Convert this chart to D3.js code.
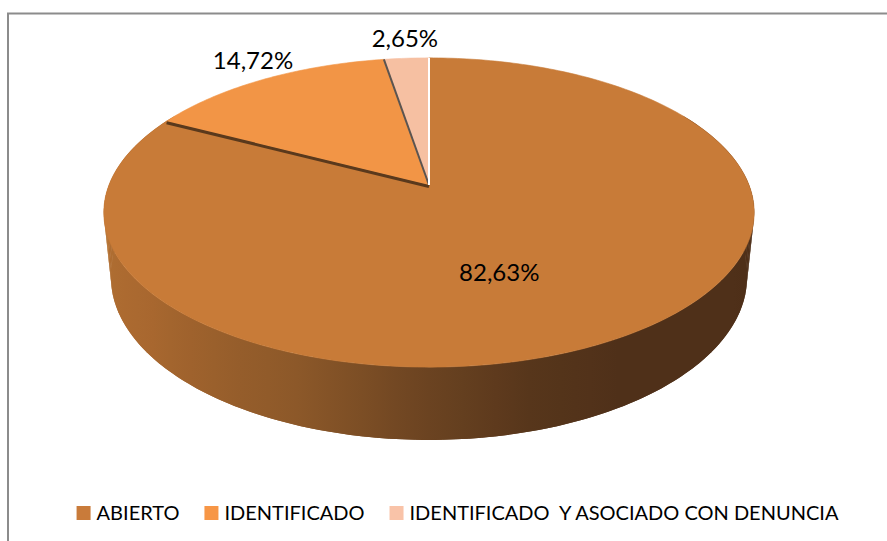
<!DOCTYPE html>
<html>
<head>
<meta charset="utf-8">
<script src="https://cdn.jsdelivr.net/npm/d3@7"></script>
<style>
  html, body { margin: 0; padding: 0; background: #fff; }
  text { font-family: Lato, "Open Sans", sans-serif; }
</style>
</head>
<body>
<div id="chart"></div>
<script>
"use strict";

// datos del gráfico
const categories = ["ABIERTO", "IDENTIFICADO", "IDENTIFICADO  Y ASOCIADO CON DENUNCIA"];
const values = [82.63, 14.72, 2.65];
const labels = ["82,63%", "14,72%", "2,65%"];
const topColors = ["#c87b38", "#f29546", "#f6c0a2"];
const legendColors = ["#c97b3a", "#f79646", "#f9c3a8"];

const svgWidth = 887;
const svgHeight = 541;

// proyección en perspectiva del pastel 3D
const cx = 429, cy = 185;
const R = 320;          // radio del disco
const H = 74;           // grosor
const elev = 27.9 * Math.PI / 180;
const D = 1590;         // distancia de la cámara

function project(theta, r, y) {
    const X = r * Math.sin(theta);
    const Z = -r * Math.cos(theta);
    const zp = Z * Math.cos(elev) + y * Math.sin(elev);
    const f = D / (D - zp);
    return [cx + X * f, cy + (Z * Math.sin(elev) - y * Math.cos(elev)) * f];
}

const svg = d3.select("#chart")
    .append("svg")
    .attr("width", svgWidth)
    .attr("height", svgHeight);

// marco
svg.append("path")
    .attr("d", "M8,541 L8,13.5 L887,13.5")
    .attr("fill", "none")
    .attr("stroke", "#8c8c8c")
    .attr("stroke-width", 2);

const pie = d3.pie().sort(null).value(d => d);
const arcs = pie(values);

const deg = Math.PI / 180;
const sideShade = d3.scaleLinear()
    .domain([90, 150, 165, 180, 200, 230, 270].map(d => d * deg))
    .range(["#4e2f18", "#4f3019", "#57361b", "#6b4321", "#8c5829", "#a8672f", "#b67333"])
    .clamp(true);

// degradado horizontal del lateral, en coordenadas de pantalla
const x0 = cx - R * 1.05, x1 = cx + R * 1.05;
const grad = svg.append("defs").append("linearGradient")
    .attr("id", "sideGrad")
    .attr("gradientUnits", "userSpaceOnUse")
    .attr("x1", x0).attr("x2", x1)
    .attr("y1", 0).attr("y2", 0);
const gradStops = d3.range(270, 89, -5).map(a => {
    const t = a * deg;
    return { offset: (project(t, R, 0)[0] - x0) / (x1 - x0), color: sideShade(t) };
});
grad.selectAll("stop")
    .data(gradStops)
    .enter().append("stop")
    .attr("offset", d => Math.max(0, Math.min(1, d.offset)))
    .attr("stop-color", d => d.color);

const line = d3.line();

// caras laterales (solo la mitad frontal es visible)
const sideAngles = d3.range(60, 301, 1).map(a => a * deg);
const sideG = svg.append("g");

// banda continua: arco superior + arco inferior
sideG.append("path")
    .attr("d", line(sideAngles.map(t => project(t, R, 0))
        .concat(sideAngles.slice().reverse().map(t => project(t, R, -H)))) + "Z")
    .attr("fill", "url(#sideGrad)");

// facetas para la silueta
const facets = [];
for (let i = 0; i < sideAngles.length - 1; i += 2) {
    facets.push({ t1: sideAngles[i], t2: sideAngles[Math.min(i + 2, sideAngles.length - 1)] });
}
sideG.selectAll("path.facet")
    .data(facets)
    .enter().append("path")
    .attr("class", "facet")
    .attr("d", d => line([
        project(d.t1, R, 0), project(d.t2, R, 0),
        project(d.t2, R, -H), project(d.t1, R, -H)
    ]) + "Z")
    .attr("fill", "url(#sideGrad)");

// caras superiores
function topPath(a) {
    const pts = [project(0, 0, 0)];
    const n = Math.max(4, Math.ceil((a.endAngle - a.startAngle) / deg));
    for (let i = 0; i <= n; i++) {
        const t = a.startAngle + (a.endAngle - a.startAngle) * i / n;
        pts.push(project(t, R, 0));
    }
    return line(pts) + "Z";
}

svg.append("g")
    .selectAll("path")
    .data(arcs)
    .enter().append("path")
    .attr("d", d => topPath(d))
    .attr("fill", (d, i) => topColors[i])
    .attr("stroke", (d, i) => topColors[i])
    .attr("stroke-width", 0.6);

// bordes entre porciones
const edges = [
    { t: arcs[1].startAngle, color: "#5a391c", width: 3, dy: 1.5 },
    { t: arcs[2].startAngle, color: "#5b5450", width: 2, dy: 0 },
    { t: arcs[2].endAngle, color: "#ffffff", width: 2, dy: 0 }
];
svg.append("g")
    .selectAll("path")
    .data(edges)
    .enter().append("path")
    .attr("d", d => line([project(0, 0, 0), project(d.t, R, 0)]))
    .attr("transform", d => "translate(0," + d.dy + ")")
    .attr("fill", "none")
    .attr("stroke", d => d.color)
    .attr("stroke-width", d => d.width);

// etiquetas de datos
function labelPos(a) {
    const mid = (a.startAngle + a.endAngle) / 2;
    if (a.endAngle - a.startAngle > Math.PI) {
        const p = project(mid + 10 * deg, 0.55 * R, 0);
        return [p[0], p[1] + 12];
    }
    const p = project(mid, 1.08 * R, 0);
    return [p[0], p[1] - 3];
}

svg.append("g")
    .selectAll("text")
    .data(arcs)
    .enter().append("text")
    .attr("text-anchor", "middle")
    .attr("font-size", 24)
    .attr("fill", "#000")
    .attr("x", d => labelPos(d)[0])
    .attr("y", d => labelPos(d)[1])
    .text((d, i) => labels[i]);

// leyenda
const legend = svg.append("g");
const items = legend.selectAll("g")
    .data(categories)
    .enter().append("g");

items.append("rect")
    .attr("width", 14)
    .attr("height", 14)
    .attr("y", 506)
    .attr("fill", (d, i) => legendColors[i]);

items.append("text")
    .attr("x", 20)
    .attr("y", 520)
    .attr("font-size", 20)
    .attr("fill", "#000")
    .style("white-space", "pre")
    .text(d => d);

let xPos = 0;
const itemX = [];
items.each(function () {
    const w = d3.select(this).select("text").node().getComputedTextLength();
    itemX.push(xPos);
    xPos += 20 + w + 25;
});
const totalW = xPos - 25;
const startX = 457.5 - totalW / 2;
items.attr("transform", (d, i) => "translate(" + (startX + itemX[i]) + ",0)");
</script>
</body>
</html>
